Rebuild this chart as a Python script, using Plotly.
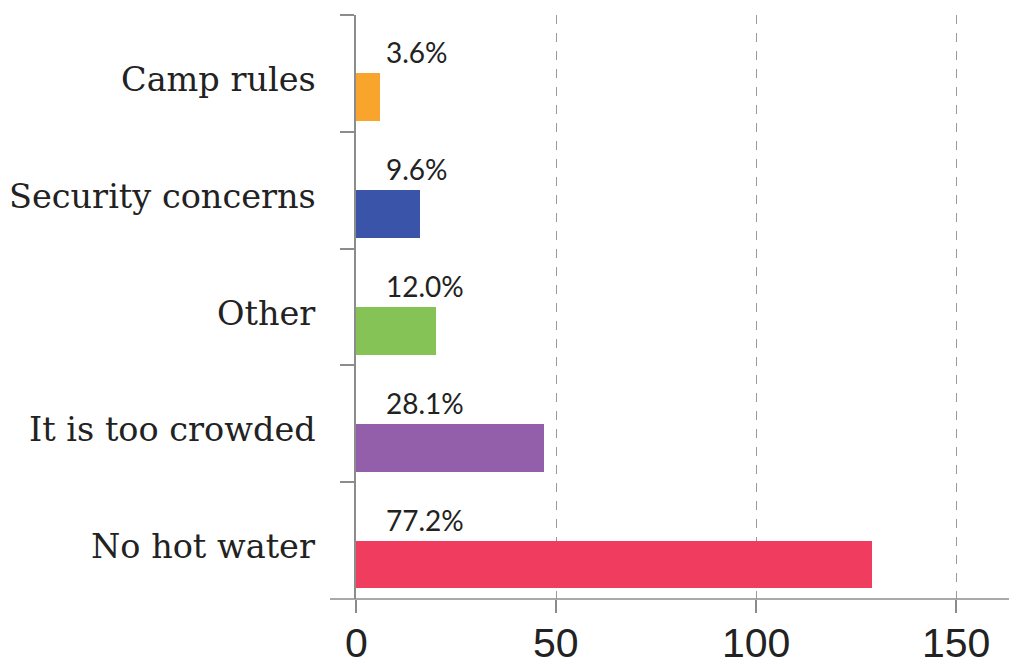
import plotly.graph_objects as go

categories = ["Camp rules", "Security concerns", "Other", "It is too crowded", "No hot water"]
counts = [6, 16, 20, 47, 129]
pct_labels = ["3.6%", "9.6%", "12.0%", "28.1%", "77.2%"]
colors = ["#F9A42C", "#3954A8", "#86C357", "#935FAA", "#F03C5E"]
x_ticks = [0, 50, 100, 150]

fig = go.Figure()
fig.add_trace(go.Bar(
    y=categories, x=counts, orientation="h",
    marker=dict(color=colors, line=dict(width=0)),
    width=0.41, offset=0.0, showlegend=False, hoverinfo="skip",
))

# value labels above bars
for c, lab in zip(categories, pct_labels):
    fig.add_annotation(x=7, y=c, text=lab, showarrow=False, xanchor="left",
                       yanchor="middle", yshift=21,
                       font=dict(family="Lato", size=28, color="#222222"))

# category labels
for c in categories:
    fig.add_annotation(xref="paper", x=0, y=c, text=c, showarrow=False,
                       xanchor="right", yanchor="middle", xshift=-38, yshift=-6,
                       font=dict(family="DejaVu Serif", size=33.5, color="#222222"))

# x tick labels
for v in x_ticks:
    fig.add_annotation(x=v, yref="paper", y=0, text=str(v), showarrow=False,
                       xanchor="center", yanchor="top", yshift=-19,
                       font=dict(family="Liberation Sans Narrow, Liberation Sans", size=41, color="#222222"))

# x axis baseline extending a bit left of y axis
fig.add_shape(type="line", xref="paper", yref="paper", x0=-26/661, x1=1, y0=0, y1=0,
              line=dict(color="#8c8c8c", width=1.5))

fig.update_layout(
    width=1009, height=658,
    margin=dict(l=348, r=0, t=7, b=67),
    plot_bgcolor="white", paper_bgcolor="white",
    bargap=0,
    xaxis=dict(range=[0, 165.25], tickvals=x_ticks, showticklabels=False,
               showgrid=True, gridcolor="#9a9a9a", griddash="dash", gridwidth=1,
               zeroline=False, showline=False, automargin=False,
               ticks="outside", ticklen=13, tickcolor="#8c8c8c", tickwidth=1.5),
    yaxis=dict(categoryorder="array", categoryarray=categories, autorange="reversed",
               tickson="boundaries", ticks="outside", ticklen=14, tickcolor="#8c8c8c", tickwidth=1.5,
               showline=True, linecolor="#8c8c8c", linewidth=1.5, showgrid=False,
               showticklabels=False, automargin=False),
)

fig.write_html("out.html")
